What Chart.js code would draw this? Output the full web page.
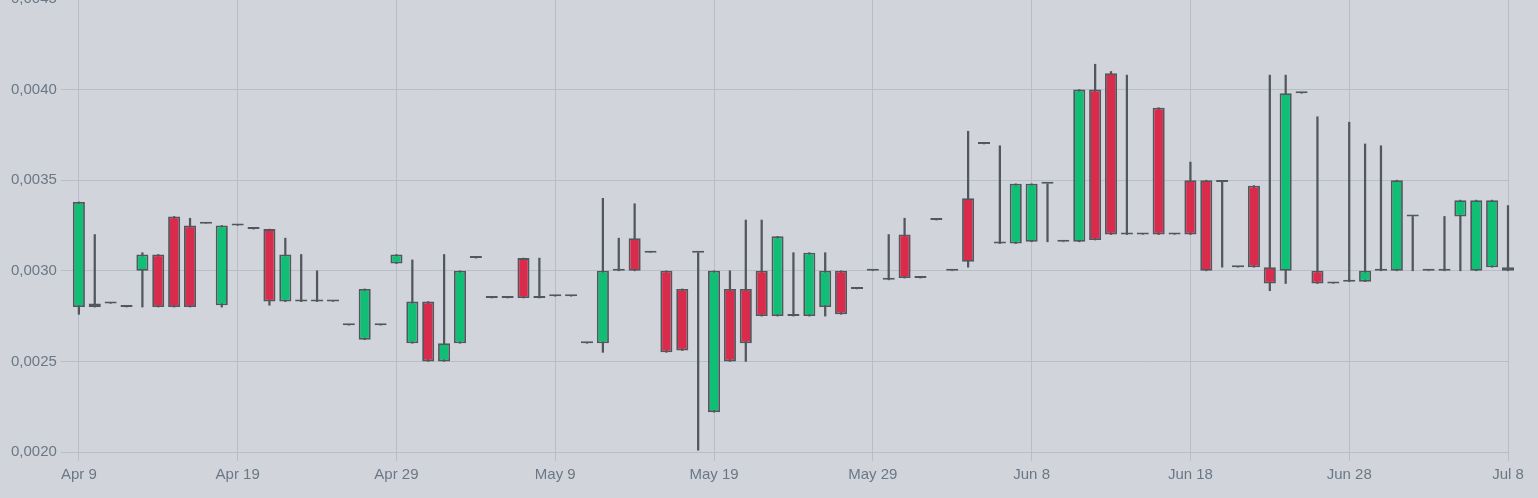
<!DOCTYPE html>
<html>
<head>
<meta charset="utf-8">
<script src="https://cdn.jsdelivr.net/npm/chart.js@4.4.1/dist/chart.umd.min.js"></script>
<style>
  html, body { margin: 0; padding: 0; background: #d1d5db; overflow: hidden; }
  #wrap { position: absolute; left: 0; top: -14px; width: 1538px; height: 512px; }
</style>
</head>
<body>
<div id="wrap"><canvas id="chart"></canvas></div>
<script>
// one candle per day, Apr 9 -> Jul 8
const tickLabels = ['Apr 9', 'Apr 19', 'Apr 29', 'May 9', 'May 19', 'May 29', 'Jun 8', 'Jun 18', 'Jun 28', 'Jul 8'];

const opens = [
  0.00280, 0.00280, 0.00282, 0.00280, 0.00300, 0.00309, 0.00330, 0.00325, 0.00326, 0.00281,
  0.00325, 0.00323, 0.00323, 0.00283, 0.00283, 0.00283, 0.00283, 0.00270, 0.00262, 0.00270,
  0.00304, 0.00260, 0.00283, 0.00250, 0.00260, 0.00307, 0.00285, 0.00285, 0.00307, 0.00285,
  0.00286, 0.00286, 0.00260, 0.00260, 0.00300, 0.00318, 0.00310, 0.00300, 0.00290, 0.00310,
  0.00222, 0.00290, 0.00290, 0.00300, 0.00275, 0.00275, 0.00275, 0.00280, 0.00300, 0.00290,
  0.00300, 0.00295, 0.00320, 0.00296, 0.00328, 0.00300, 0.00340, 0.00370, 0.00315, 0.00315,
  0.00316, 0.00348, 0.00316, 0.00316, 0.00400, 0.00409, 0.00320, 0.00320, 0.00390, 0.00320,
  0.00350, 0.00350, 0.00349, 0.00302, 0.00347, 0.00302, 0.00300, 0.00398, 0.00300, 0.00293,
  0.00294, 0.00294, 0.00300, 0.00300, 0.00330, 0.00300, 0.00300, 0.00330, 0.00300, 0.00302,
  0.00302
];
const highs = [
  0.00338, 0.00320, 0.00282, 0.00280, 0.00310, 0.00309, 0.00330, 0.00329, 0.00326, 0.00325,
  0.00325, 0.00323, 0.00323, 0.00318, 0.00309, 0.00300, 0.00283, 0.00270, 0.00290, 0.00270,
  0.00309, 0.00306, 0.00283, 0.00309, 0.00300, 0.00307, 0.00285, 0.00285, 0.00307, 0.00307,
  0.00286, 0.00286, 0.00260, 0.00340, 0.00318, 0.00337, 0.00310, 0.00300, 0.00290, 0.00310,
  0.00300, 0.00300, 0.00328, 0.00328, 0.00319, 0.00310, 0.00310, 0.00310, 0.00300, 0.00290,
  0.00300, 0.00320, 0.00329, 0.00296, 0.00328, 0.00300, 0.00377, 0.00370, 0.00369, 0.00348,
  0.00348, 0.00348, 0.00316, 0.00400, 0.00414, 0.00410, 0.00408, 0.00320, 0.00390, 0.00320,
  0.00360, 0.00350, 0.00349, 0.00302, 0.00347, 0.00408, 0.00408, 0.00398, 0.00385, 0.00293,
  0.00382, 0.00370, 0.00369, 0.00350, 0.00330, 0.00300, 0.00330, 0.00339, 0.00339, 0.00339,
  0.00336
];
const lows = [
  0.00276, 0.00280, 0.00282, 0.00280, 0.00280, 0.00280, 0.00280, 0.00280, 0.00326, 0.00280,
  0.00325, 0.00323, 0.00281, 0.00283, 0.00283, 0.00283, 0.00283, 0.00270, 0.00262, 0.00270,
  0.00304, 0.00260, 0.00250, 0.00250, 0.00260, 0.00307, 0.00285, 0.00285, 0.00285, 0.00285,
  0.00286, 0.00286, 0.00260, 0.00255, 0.00300, 0.00300, 0.00310, 0.00255, 0.00256, 0.00201,
  0.00222, 0.00250, 0.00250, 0.00275, 0.00275, 0.00275, 0.00275, 0.00275, 0.00276, 0.00290,
  0.00300, 0.00295, 0.00296, 0.00296, 0.00328, 0.00300, 0.00302, 0.00370, 0.00315, 0.00315,
  0.00316, 0.00316, 0.00316, 0.00316, 0.00317, 0.00320, 0.00320, 0.00320, 0.00320, 0.00320,
  0.00320, 0.00300, 0.00302, 0.00302, 0.00302, 0.00289, 0.00293, 0.00398, 0.00293, 0.00293,
  0.00294, 0.00294, 0.00300, 0.00300, 0.00300, 0.00300, 0.00300, 0.00300, 0.00300, 0.00302,
  0.00300
];
const closes = [
  0.00338, 0.00282, 0.00282, 0.00280, 0.00309, 0.00280, 0.00280, 0.00280, 0.00326, 0.00325,
  0.00325, 0.00323, 0.00283, 0.00309, 0.00283, 0.00283, 0.00283, 0.00270, 0.00290, 0.00270,
  0.00309, 0.00283, 0.00250, 0.00260, 0.00300, 0.00307, 0.00285, 0.00285, 0.00285, 0.00285,
  0.00286, 0.00286, 0.00260, 0.00300, 0.00300, 0.00300, 0.00310, 0.00255, 0.00256, 0.00310,
  0.00300, 0.00250, 0.00260, 0.00275, 0.00319, 0.00275, 0.00310, 0.00300, 0.00276, 0.00290,
  0.00300, 0.00295, 0.00296, 0.00296, 0.00328, 0.00300, 0.00305, 0.00370, 0.00315, 0.00348,
  0.00348, 0.00348, 0.00316, 0.00400, 0.00317, 0.00320, 0.00320, 0.00320, 0.00320, 0.00320,
  0.00320, 0.00300, 0.00349, 0.00302, 0.00302, 0.00293, 0.00398, 0.00398, 0.00293, 0.00293,
  0.00294, 0.00300, 0.00300, 0.00350, 0.00330, 0.00300, 0.00300, 0.00339, 0.00339, 0.00339,
  0.00300
];

const upColor = '#10bf75';
const downColor = '#d92b4b';
const lineColor = '#52575e';
const gridColor = '#b9bdc5';
const textColor = '#6b7785';

const bodies = opens.map((o, i) => ({ x: i, y: [o, closes[i]] }));
const wicks = lows.map((l, i) => ({ x: i, y: [l, highs[i]] }));

Chart.defaults.font.family = "'Liberation Sans', Arial, sans-serif";
Chart.defaults.font.size = 15;
Chart.defaults.color = textColor;

const ctx = document.getElementById('chart').getContext('2d');
new Chart(ctx, {
  type: 'bar',
  data: {
    datasets: [
      {
        // candle bodies, drawn on top of the wicks
        data: bodies,
        backgroundColor: (c) => (closes[c.dataIndex] >= opens[c.dataIndex] ? upColor : downColor),
        borderColor: lineColor,
        borderWidth: 1.8,
        borderSkipped: false,
        minBarLength: 2,
        barPercentage: 0.76,
        categoryPercentage: 1,
        grouped: false,
        clip: false,
      },
      {
        data: wicks,
        backgroundColor: lineColor,
        borderWidth: 0,
        barThickness: 1.6,
        grouped: false,
        clip: false,
      },
    ],
  },
  options: {
    responsive: true,
    maintainAspectRatio: false,
    animation: false,
    layout: { padding: { left: 7, right: 30, top: 0, bottom: 9 } },
    plugins: { legend: { display: false }, tooltip: { enabled: false } },
    scales: {
      x: {
        type: 'linear',
        min: 0,
        max: 90,
        offset: false,
        grid: { color: gridColor, tickLength: 9, offset: false },
        border: { display: false },
        ticks: {
          stepSize: 10,
          autoSkip: false,
          maxRotation: 0,
          padding: 5,
          callback: (v) => tickLabels[v / 10],
        },
      },
      y: {
        min: 0.002,
        max: 0.0045,
        grid: { color: gridColor, tickLength: 18 },
        border: { display: false },
        ticks: {
          stepSize: 0.0005,
          padding: 4,
          callback: (v) => v.toFixed(4).replace('.', ','),
        },
      },
    },
  },
});
</script>
</body>
</html>
